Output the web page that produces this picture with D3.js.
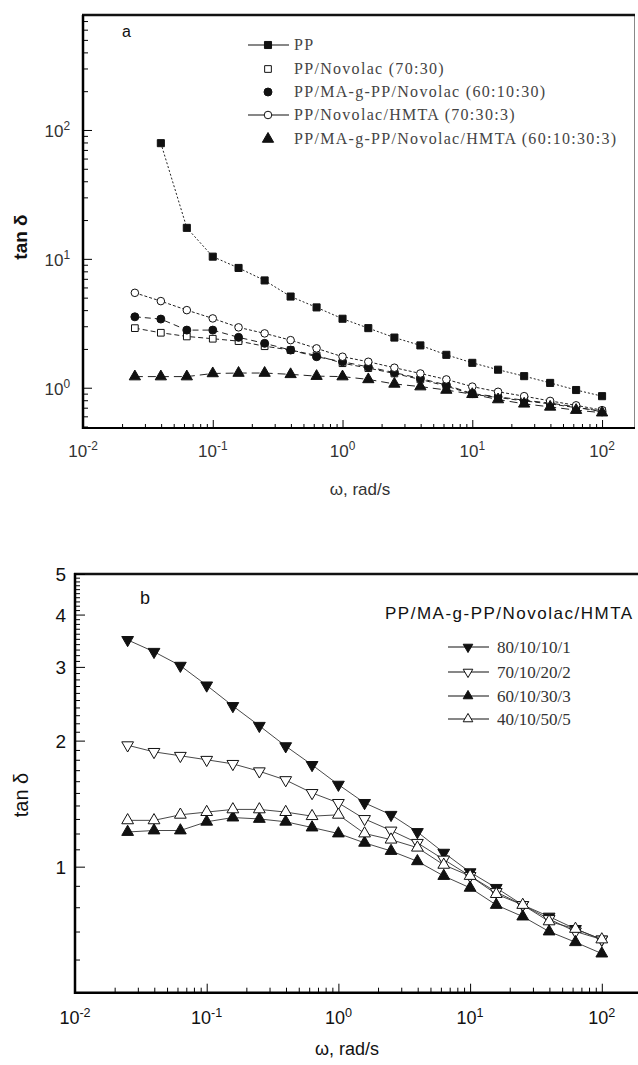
<!DOCTYPE html>
<html>
<head>
<meta charset="utf-8">
<script src="https://cdn.jsdelivr.net/npm/d3@7"></script>
<style>
  body { margin: 0; background: #fff; }
  text { fill: #111; }
</style>
</head>
<body>
<svg id="fig" width="638" height="1065"></svg>
<script>
// angular frequency, rad/s (5 points per decade)
var freq = [0.0251, 0.0398, 0.0631, 0.1, 0.158, 0.251, 0.398, 0.631, 1, 1.58, 2.51, 3.98, 6.31, 10, 15.8, 25.1, 39.8, 63.1, 100];
var freqPP = [0.0398, 0.0631, 0.1, 0.158, 0.251, 0.398, 0.631, 1, 1.58, 2.51, 3.98, 6.31, 10, 15.8, 25.1, 39.8, 63.1, 100];

// panel a : tan delta
var tanPP       = [79, 17.4, 10.4, 8.5, 6.8, 5.1, 4.2, 3.43, 2.9, 2.45, 2.13, 1.8, 1.56, 1.38, 1.23, 1.09, 0.96, 0.86];
var tanPPNov    = [2.9, 2.67, 2.5, 2.4, 2.3, 2.1, 1.96, 1.78, 1.55, 1.42, 1.29, 1.16, 1.03, 0.89, 0.84, 0.79, 0.75, 0.70, 0.66];
var tanPPMANov  = [3.55, 3.41, 2.8, 2.8, 2.46, 2.21, 1.96, 1.74, 1.59, 1.45, 1.31, 1.18, 1.05, 0.90, 0.85, 0.80, 0.76, 0.71, 0.65];
var tanPPNovH   = [5.45, 4.7, 4.0, 3.45, 2.94, 2.64, 2.34, 2.02, 1.74, 1.59, 1.43, 1.29, 1.16, 1.02, 0.93, 0.86, 0.79, 0.73, 0.67];
var tanPPMANovH = [1.22, 1.22, 1.22, 1.29, 1.30, 1.30, 1.27, 1.23, 1.22, 1.16, 1.07, 1.02, 0.96, 0.89, 0.81, 0.75, 0.71, 0.67, 0.64];
var namesA = ["PP", "PP/Novolac (70:30)", "PP/MA-g-PP/Novolac (60:10:30)", "PP/Novolac/HMTA (70:30:3)", "PP/MA-g-PP/Novolac/HMTA (60:10:30:3)"];

// panel b : PP/MA-g-PP/Novolac/HMTA blends
var tan80 = [3.48, 3.26, 3.02, 2.71, 2.42, 2.17, 1.94, 1.75, 1.57, 1.42, 1.33, 1.21, 1.08, 0.97, 0.89, 0.81, 0.76, 0.71, 0.67];
var tan70 = [1.95, 1.88, 1.84, 1.80, 1.76, 1.69, 1.61, 1.50, 1.42, 1.30, 1.22, 1.14, 1.04, 0.95, 0.87, 0.81, 0.75, 0.70, 0.67];
var tan60 = [1.21, 1.22, 1.22, 1.28, 1.31, 1.30, 1.28, 1.24, 1.20, 1.14, 1.09, 1.03, 0.95, 0.89, 0.81, 0.76, 0.70, 0.66, 0.62];
var tan40 = [1.29, 1.29, 1.33, 1.35, 1.37, 1.37, 1.35, 1.32, 1.33, 1.20, 1.16, 1.11, 1.01, 0.95, 0.86, 0.81, 0.74, 0.71, 0.67];
var namesB = ["80/10/10/1", "70/10/20/2", "60/10/30/3", "40/10/50/5"];
var legendTitleB = "PP/MA-g-PP/Novolac/HMTA";

// tick labels
var decadeA = [0.01, 0.1, 1, 10, 100];
var yDecadeA = [1, 10, 100];
var yTicksB = [1, 2, 3, 4, 5];

var svg = d3.select("#fig");
var sans = "'Liberation Sans', Arial, sans-serif",
    serif = "'Liberation Serif', 'Times New Roman', serif";

// helper: 10^n label with superscript
function powLabel(sel, v) {
  var e = Math.round(Math.log10(v));
  sel.append("tspan").text("10");
  sel.append("tspan").attr("dy", "-0.55em").style("font-size", "0.7em").text(e);
}

// minor tick values for a log axis
function minors(lo, hi, steps) {
  var out = [];
  for (var p = Math.floor(Math.log10(lo)); p <= Math.ceil(Math.log10(hi)); p++) {
    steps.forEach(function(m) {
      var v = m * Math.pow(10, p);
      if (v >= lo && v <= hi) out.push(v);
    });
  }
  return out;
}

// marker shapes
var sym = {
  square: d3.symbol().type(d3.symbolSquare),
  circle: d3.symbol().type(d3.symbolCircle),
  triUp: d3.symbol().type(d3.symbolTriangle),
  triDown: d3.symbol().type(d3.symbolTriangle)
};
function marker(g, x, y, shape, fill, size) {
  var p = g.append("path")
    .attr("d", sym[shape].size(size)())
    .attr("fill", fill ? "#111" : "#fff")
    .attr("stroke", "#111")
    .attr("stroke-width", 1);
  var t = "translate(" + x + "," + y + ")";
  if (shape == "triDown") t += " rotate(180)";
  p.attr("transform", t);
  return p;
}

// ================= panel a =================
var xa = d3.scaleLog().domain([0.01, Math.pow(10, 2.25)]).range([83, 634.5]);
var ya = d3.scaleLog().domain([0.487, 780]).range([428, 15]);
var ga = svg.append("g");

// frame
ga.append("line").attr("x1", 634.5).attr("x2", 634.5).attr("y1", 15).attr("y2", 428)
  .attr("stroke", "#888").attr("stroke-width", 1);
ga.append("line").attr("x1", 82).attr("x2", 635).attr("y1", 15).attr("y2", 15)
  .attr("stroke", "#111").attr("stroke-width", 2.5);

// x axis
ga.append("g").attr("transform", "translate(0,428)")
  .call(d3.axisBottom(xa).tickValues(minors(0.01, 177, [2,3,4,5,6,7,8,9])).tickSize(-4).tickFormat(""))
  .call(function(g){ g.select(".domain").remove(); });
ga.append("g").attr("transform", "translate(0,428)")
  .call(d3.axisBottom(xa).tickValues(decadeA).tickSize(-8).tickFormat(""))
  .call(function(g){ g.select(".domain").attr("stroke-width", 2).attr("d", "M82,0H635"); });
ga.selectAll(".xlabA").data(decadeA).enter().append("text")
  .attr("x", function(d){ return xa(d); }).attr("y", 457)
  .attr("text-anchor", "middle").style("font-family", sans).style("font-size", "17px").style("fill", "#333")
  .each(function(d){ powLabel(d3.select(this), d); });

// y axis
ga.append("g").attr("transform", "translate(83,0)")
  .call(d3.axisLeft(ya).tickValues(minors(0.5, 780, [2,3,4,5,6,7,8,9])).tickSize(-5).tickFormat(""))
  .call(function(g){ g.select(".domain").remove(); });
ga.append("g").attr("transform", "translate(83,0)")
  .call(d3.axisLeft(ya).tickValues(yDecadeA).tickSize(-9).tickFormat(""))
  .call(function(g){ g.select(".domain").attr("stroke-width", 2.5).attr("d", "M0,15V429"); });
ga.selectAll(".ylabA").data(yDecadeA).enter().append("text")
  .attr("x", 70).attr("y", function(d){ return ya(d) + 7; })
  .attr("text-anchor", "end").style("font-family", sans).style("font-size", "17px").style("fill", "#333")
  .each(function(d){ powLabel(d3.select(this), d); });

ga.append("text").attr("transform", "translate(27,237) rotate(-90)")
  .attr("text-anchor", "middle").style("font-family", sans).style("font-size", "19px")
  .style("font-weight", "bold").text("tan δ");
ga.append("text").attr("x", 360).attr("y", 495).attr("text-anchor", "middle")
  .style("font-family", sans).style("font-size", "17px").style("fill", "#333").text("ω, rad/s");
ga.append("text").attr("x", 122).attr("y", 37).style("font-family", sans).style("font-size", "16px").text("a");

var seriesA = [
  { x: freqPP, y: tanPP,       shape: "square", fill: true,  dash: "2,2",   size: 50 },
  { x: freq,   y: tanPPNov,    shape: "square", fill: false, dash: "5,3",   size: 45 },
  { x: freq,   y: tanPPMANov,  shape: "circle", fill: true,  dash: "6,4",   size: 50 },
  { x: freq,   y: tanPPNovH,   shape: "circle", fill: false, dash: "3,2",   size: 45 },
  { x: freq,   y: tanPPMANovH, shape: "triUp",  fill: true,  dash: "8,5",   size: 55 }
];
var lineA = d3.line().x(function(d){ return xa(d[0]); }).y(function(d){ return ya(d[1]); });
seriesA.forEach(function(s) {
  var pts = d3.zip(s.x, s.y);
  ga.append("path").attr("d", lineA(pts)).attr("fill", "none")
    .attr("stroke", "#222").attr("stroke-width", 1).attr("stroke-dasharray", s.dash);
  pts.forEach(function(p){ marker(ga, xa(p[0]), ya(p[1]), s.shape, s.fill, s.size); });
});

// legend a
var legRowsA = [45, 69, 92, 115, 139];
var legLineA = [true, false, false, true, false];
seriesA.forEach(function(s, i) {
  var y = legRowsA[i];
  if (legLineA[i]) {
    ga.append("line").attr("x1", 248).attr("x2", 289).attr("y1", y).attr("y2", y)
      .attr("stroke", "#111").attr("stroke-width", 1.2);
  }
  marker(ga, 268, y, s.shape, s.fill, s.size);
  ga.append("text").attr("x", 294).attr("y", y + 5)
    .style("font-family", serif).style("font-size", "16px").style("letter-spacing", "1.3px")
    .style("fill", "#444").text(namesA[i]);
});

// ================= panel b =================
var xb = d3.scaleLog().domain([0.01, Math.pow(10, 2.35)]).range([75, 75 + 4.35 * 131.7]);
var yb = d3.scaleLog().domain([0.5, 5]).range([992.7, 574]);
var gb = svg.append("g");

gb.append("line").attr("x1", 74).attr("x2", 638).attr("y1", 574).attr("y2", 574)
  .attr("stroke", "#111").attr("stroke-width", 2.5);

gb.append("g").attr("transform", "translate(0,992.7)")
  .call(d3.axisBottom(xb).tickValues(minors(0.01, 200, [2,3,4,5,6,7,8,9])).tickSize(-5).tickFormat(""))
  .call(function(g){ g.select(".domain").remove(); });
gb.append("g").attr("transform", "translate(0,992.7)")
  .call(d3.axisBottom(xb).tickValues(decadeA).tickSize(-9).tickFormat(""))
  .call(function(g){ g.select(".domain").attr("stroke-width", 2.5).attr("d", "M74,0H638"); });
gb.selectAll(".xlabB").data(decadeA).enter().append("text")
  .attr("x", function(d){ return xb(d); }).attr("y", 1024)
  .attr("text-anchor", "middle").style("font-family", sans).style("font-size", "18px")
  .each(function(d){ powLabel(d3.select(this), d); });

var yMinorB = d3.range(6, 50).map(function(k){ return k / 10; }).filter(function(v){ return yTicksB.indexOf(v) < 0; });
gb.append("g").attr("transform", "translate(75,0)")
  .call(d3.axisLeft(yb).tickValues(yMinorB).tickSize(-5).tickFormat(""))
  .call(function(g){ g.select(".domain").remove(); });
gb.append("g").attr("transform", "translate(75,0)")
  .call(d3.axisLeft(yb).tickValues(yTicksB).tickSize(-10).tickFormat(""))
  .call(function(g){ g.select(".domain").attr("stroke-width", 2.5).attr("d", "M0,573V994"); });
gb.selectAll(".ylabB").data(yTicksB).enter().append("text")
  .attr("x", 66).attr("y", function(d){ return yb(d) + 7; })
  .attr("text-anchor", "end").style("font-family", sans).style("font-size", "19px")
  .text(function(d){ return d; });

gb.append("text").attr("transform", "translate(28,795) rotate(-90)")
  .attr("text-anchor", "middle").style("font-family", sans).style("font-size", "20px").text("tan δ");
gb.append("text").attr("x", 347).attr("y", 1055).attr("text-anchor", "middle")
  .style("font-family", sans).style("font-size", "18px").text("ω, rad/s");
gb.append("text").attr("x", 140).attr("y", 604).style("font-family", sans).style("font-size", "18px").text("b");

var seriesB = [
  { y: tan80, shape: "triDown", fill: true },
  { y: tan70, shape: "triDown", fill: false },
  { y: tan60, shape: "triUp",   fill: true },
  { y: tan40, shape: "triUp",   fill: false }
];
var lineB = d3.line().x(function(d){ return xb(d[0]); }).y(function(d){ return yb(d[1]); });
seriesB.forEach(function(s) {
  var pts = d3.zip(freq, s.y);
  gb.append("path").attr("d", lineB(pts)).attr("fill", "none")
    .attr("stroke", "#333").attr("stroke-width", 0.9);
  pts.forEach(function(p){ marker(gb, xb(p[0]), yb(p[1]), s.shape, s.fill, 60); });
});

// legend b
gb.append("text").attr("x", 385).attr("y", 619).style("font-family", sans).style("font-size", "17px")
  .style("letter-spacing", "1.5px").text(legendTitleB);
var legRowsB = [647, 672, 696, 719];
seriesB.forEach(function(s, i) {
  var y = legRowsB[i];
  gb.append("line").attr("x1", 448).attr("x2", 489).attr("y1", y).attr("y2", y)
    .attr("stroke", "#111").attr("stroke-width", 1.2);
  marker(gb, 468, y, s.shape, s.fill, 40);
  gb.append("text").attr("x", 497).attr("y", y + 6)
    .style("font-family", serif).style("font-size", "17px").style("fill", "#333").text(namesB[i]);
});
</script>
</body>
</html>
